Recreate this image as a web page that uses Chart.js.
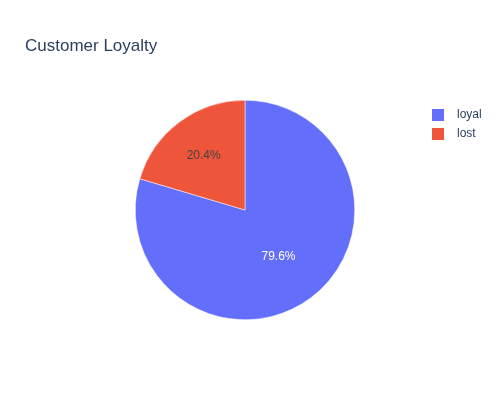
<!DOCTYPE html>
<html>
<head>
<meta charset="utf-8">
<script src="https://cdn.jsdelivr.net/npm/chart.js@4"></script>
<style>
  html, body { margin: 0; padding: 0; background: #fff; }
  #wrap { position: relative; width: 500px; height: 400px; }
</style>
</head>
<body>
<div id="wrap"><canvas id="c" width="500" height="400"></canvas></div>
<script>
const titleText = "Customer Loyalty";
const categories = ["loyal", "lost"];
const values = [79.6, 20.4];
const colors = ["#636efa", "#EF553B"];
const textColors = ["#ffffff", "#444444"];
const labelRadiusFrac = [0.51, 0.63];

const FONT = '"Liberation Sans", Arial, sans-serif';

const overlay = {
  id: 'overlay',
  afterDatasetsDraw(chart) {
    const ctx = chart.ctx;
    const meta = chart.getDatasetMeta(0);
    const total = values.reduce((a, b) => a + b, 0);
    ctx.save();
    ctx.font = '12px ' + FONT;
    ctx.textAlign = 'center';
    ctx.textBaseline = 'middle';
    meta.data.forEach((arc, i) => {
      const p = arc.getProps(['x', 'y', 'startAngle', 'endAngle', 'outerRadius'], true);
      const mid = (p.startAngle + p.endAngle) / 2;
      const r = p.outerRadius * labelRadiusFrac[i];
      ctx.fillStyle = textColors[i];
      ctx.fillText((values[i] / total * 100).toFixed(1) + '%', p.x + Math.cos(mid) * r, p.y + Math.sin(mid) * r + 1.5);
    });
    ctx.restore();
  },
  afterDraw(chart) {
    const ctx = chart.ctx;
    ctx.save();
    ctx.fillStyle = '#2a3f5f';
    ctx.font = '17px ' + FONT;
    ctx.textAlign = 'left';
    ctx.textBaseline = 'alphabetic';
    ctx.fillText(titleText, 25, 51);
    ctx.font = '12px ' + FONT;
    ctx.textBaseline = 'middle';
    categories.forEach((c, i) => {
      const y = 115 + i * 19;
      ctx.fillStyle = colors[i];
      ctx.fillRect(432, y - 6, 12, 12);
      ctx.fillStyle = '#2a3f5f';
      ctx.fillText(c, 457, y);
    });
    ctx.restore();
  }
};

new Chart(document.getElementById('c'), {
  type: 'pie',
  data: {
    labels: categories,
    datasets: [{
      data: values,
      backgroundColor: colors,
      borderColor: '#ffffff',
      borderWidth: 0.5,
      hoverOffset: 0
    }]
  },
  options: {
    responsive: false,
    animation: false,
    layout: { padding: { left: 135, right: 145, top: 100, bottom: 80 } },
    plugins: {
      legend: { display: false },
      title: { display: false },
      tooltip: { enabled: false }
    }
  },
  plugins: [overlay]
});
</script>
</body>
</html>
